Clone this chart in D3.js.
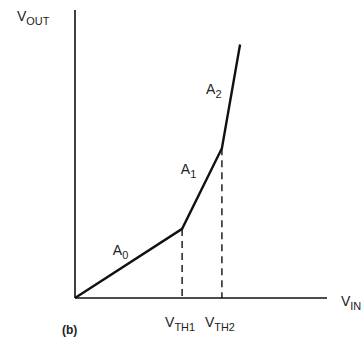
<!DOCTYPE html>
<html>
<head>
<meta charset="utf-8">
<script src="https://cdn.jsdelivr.net/npm/d3@7"></script>
<style>
  html, body { margin: 0; padding: 0; background: #fff; }
  svg text { font-family: "Liberation Sans Narrow", "Liberation Sans", "DejaVu Sans Condensed", sans-serif; fill: #222; }
</style>
</head>
<body>
<svg id="chart" width="363" height="339"></svg>
<script>
// Piecewise-linear transfer curve: V_OUT versus V_IN (normalised units)
const curveX = [0, 42.5, 58.3, 65.5];
const curveY = [0, 24, 52, 88];
// Threshold voltages where the slope changes
const thresholdX = [42.5, 58.3];
const thresholdY = [24, 52];
const thresholdLabels = ["TH1", "TH2"];
// Segment gain labels
const gainLabels = ["0", "1", "2"];
const gainX = [15, 42, 52];
const gainY = [15, 43, 71];

const svg = d3.select("#chart");
const x = d3.scaleLinear().domain([0, 100]).range([75, 327]);
const y = d3.scaleLinear().domain([0, 100]).range([298, 10]);

// Axes (plain lines, no ticks)
svg.append("line").attr("x1", x(0)).attr("x2", x(0)).attr("y1", y(0)).attr("y2", y(100))
  .attr("stroke", "#111").attr("stroke-width", 1.6);
svg.append("line").attr("x1", x(0)).attr("x2", x(100)).attr("y1", y(0)).attr("y2", y(0))
  .attr("stroke", "#111").attr("stroke-width", 1.6);

// Dashed drop lines at the thresholds
svg.selectAll("line.thr").data(thresholdX).enter().append("line")
  .attr("class", "thr")
  .attr("x1", d => x(d)).attr("x2", d => x(d))
  .attr("y1", (d, i) => y(thresholdY[i])).attr("y2", y(0))
  .attr("stroke", "#111").attr("stroke-width", 1.4)
  .attr("stroke-dasharray", "7,5");

// Transfer curve
const pts = curveX.map((d, i) => [d, curveY[i]]);
svg.append("path")
  .attr("d", d3.line().x(d => x(d[0])).y(d => y(d[1]))(pts))
  .attr("fill", "none").attr("stroke", "#111").attr("stroke-width", 2.4)
  .attr("stroke-linejoin", "miter");

// Helper for a label with subscript
function subLabel(px, py, main, sub, size) {
  const t = svg.append("text").attr("x", px).attr("y", py).attr("font-size", size);
  t.append("tspan").text(main);
  t.append("tspan").attr("dy", 4).attr("font-size", size * 0.78).text(sub);
  return t;
}

subLabel(17, 21, "V", "OUT", 14);
subLabel(341, 306, "V", "IN", 14);
thresholdX.forEach((d, i) => {
  subLabel(x(d) - 17, 327, "V", thresholdLabels[i], 14);
});
gainLabels.forEach((g, i) => {
  subLabel(x(gainX[i]), y(gainY[i]), "A", g, 14);
});

svg.append("text").attr("x", 62).attr("y", 334).attr("font-size", 12)
  .attr("font-weight", "bold").text("(b)");
</script>
</body>
</html>
